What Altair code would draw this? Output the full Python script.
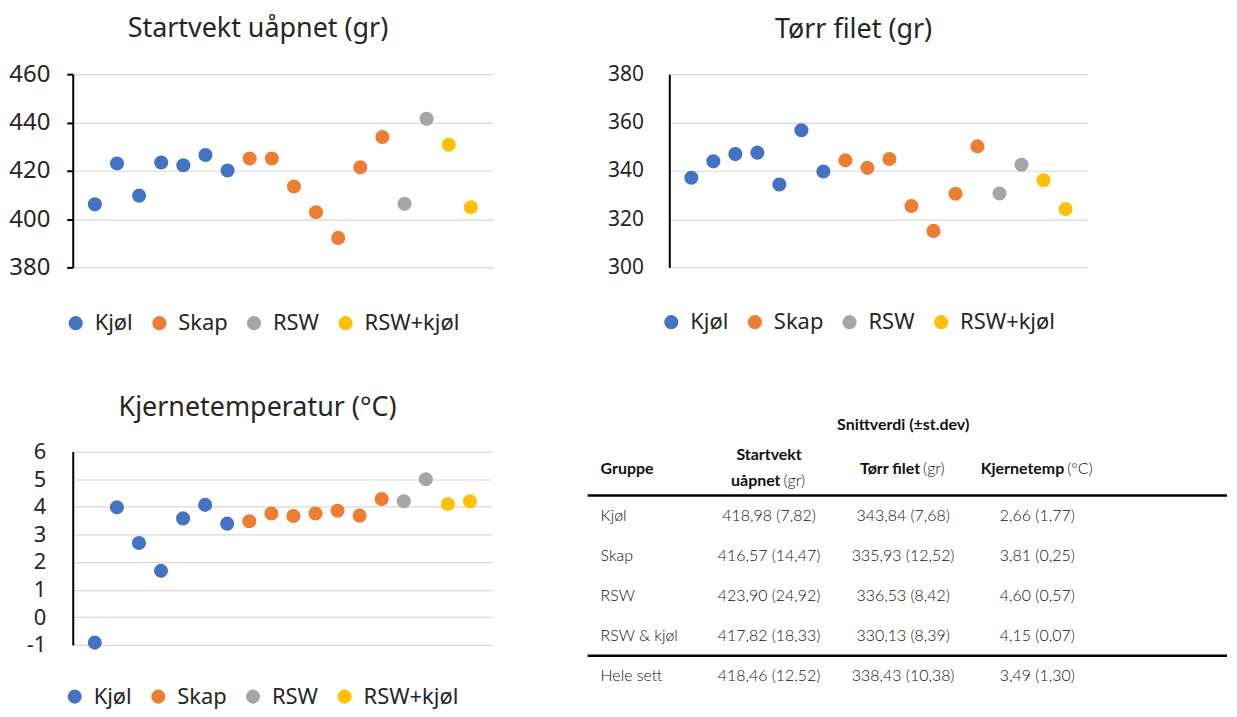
import altair as alt
import pandas as pd

# ---------------- scatter data (sample order 1..18) ----------------
sample_no = list(range(1, 19))
sample_group = ["Kjøl"] * 7 + ["Skap"] * 7 + ["RSW"] * 2 + ["RSW+kjøl"] * 2
startvekt = [406.1, 423.0, 409.7, 423.4, 422.3, 426.5, 420.1,
             425.1, 425.1, 413.5, 402.8, 392.2, 421.4, 434.0,
             406.3, 441.5, 430.8, 404.9]
torr_filet = [337.1, 343.9, 346.9, 347.5, 334.3, 356.8, 339.7,
              344.3, 341.2, 344.9, 325.4, 315.1, 330.5, 350.1,
              330.6, 342.5, 336.1, 324.2]
kjernetemp = [-0.92, 3.98, 2.69, 1.68, 3.58, 4.07, 3.39,
              3.48, 3.76, 3.67, 3.76, 3.86, 3.68, 4.28,
              4.20, 5.00, 4.10, 4.20]

group_order = ["Kjøl", "Skap", "RSW", "RSW+kjøl"]
group_colors = ["#4472C4", "#ED7D31", "#A5A5A5", "#FFC000"]

startvekt_ticks = [380, 400, 420, 440, 460]
torr_ticks = [300, 320, 340, 360, 380]
temp_ticks = [-1, 0, 1, 2, 3, 4, 5, 6]

# ---------------- table data ----------------
table_cols = ["Gruppe", "Startvekt", "Tørr filet", "Kjernetemp"]
table_groups = ["Kjøl", "Skap", "RSW", "RSW & kjøl", "Hele sett"]
table_startvekt = ["418,98 (7,82)", "416,57 (14,47)", "423,90 (24,92)", "417,82 (18,33)", "418,46 (12,52)"]
table_torr = ["343,84 (7,68)", "335,93 (12,52)", "336,53 (8,42)", "330,13 (8,39)", "338,43 (10,38)"]
table_temp = ["2,66 (1,77)", "3,81 (0,25)", "4,60 (0,57)", "4,15 (0,07)", "3,49 (1,30)"]
table_super = "Snittverdi (±st.dev)"

FONT = "Noto Sans"
TFONT = "Lato"
TXT = "#262626"
TTXT = "#111111"
TSIZE = 16


def scatter(values, title, ydom, yvals, width, ticks, label_pad, label_size, leg_x, leg_y, title_dx):
    df = pd.DataFrame({"Prøve": sample_no, "Gruppe": sample_group, "Verdi": values})
    return alt.Chart(
        df,
        title=alt.Title(title, fontSize=27, font=FONT, fontWeight="normal", color=TXT,
                        anchor="middle", offset=-2, baseline="alphabetic", dx=title_dx),
    ).mark_circle(size=200, opacity=1).encode(
        x=alt.X("Prøve:Q", scale=alt.Scale(domain=[0, 19], nice=False, zero=False), axis=None),
        y=alt.Y("Verdi:Q", scale=alt.Scale(domain=ydom, nice=False, zero=False),
                axis=alt.Axis(values=yvals, title=None, grid=True, gridColor="#D9D9D9", gridWidth=1.2,
                              domain=True, domainColor="black", domainWidth=2,
                              ticks=ticks, tickColor="black", tickWidth=2, tickSize=6 if ticks else 0,
                              labelFont=FONT, labelFontSize=label_size, labelColor=TXT,
                              labelPadding=label_pad, labelExpr="'' + datum.value")),
        color=alt.Color("Gruppe:N", scale=alt.Scale(domain=group_order, range=group_colors),
                        legend=alt.Legend(title=None, orient="none", direction="horizontal",
                                          legendX=leg_x, legendY=leg_y, symbolType="circle",
                                          symbolSize=200, symbolStrokeWidth=0, labelFont=FONT,
                                          labelFontSize=22, labelColor=TXT, columnPadding=15,
                                          labelOffset=8, padding=0, labelLimit=300)),
    ).properties(width=width, height=194)


c1 = scatter(startvekt, "Startvekt uåpnet (gr)", [380, 460], startvekt_ticks, 422, True, 17, 24, -8, 239, -25)
c2 = scatter(torr_filet, "Tørr filet (gr)", [300, 380], torr_ticks, 420, False, 26, 21, -9, 238, -25)
c3 = scatter(kjernetemp, "Kjernetemperatur (°C)", [-1, 6], temp_ticks, 421, False, 27, 22, -9, 235, -25)

# ---------------- table ----------------
row_domain = ["Gruppe"] + table_groups
xs = alt.Scale(type="point", domain=table_cols, range=[47.5, 451.5], padding=0)
ys = alt.Scale(type="point", domain=row_domain, range=[25, 225], padding=0)
TW, TH = 642, 253


def cell(text, col, row, dx=0, dy=0, align="center", weight="bold"):
    d = pd.DataFrame({"col": [col], "row": [row], "t": [text]})
    return alt.Chart(d).mark_text(font=TFONT, fontSize=TSIZE, fontWeight=weight, color=TTXT,
                                  align=align, dx=dx, dy=dy).encode(
        x=alt.X("col:N", scale=xs, axis=None),
        y=alt.Y("row:N", scale=ys, axis=None),
        text="t:N")


vals = []
for g, a, b, c in zip(table_groups, table_startvekt, table_torr, table_temp):
    vals += [(table_cols[1], g, a), (table_cols[2], g, b), (table_cols[3], g, c)]
vals_df = pd.DataFrame(vals, columns=["col", "row", "t"])
grp_df = pd.DataFrame({"col": ["Gruppe"] * len(table_groups), "row": table_groups, "t": table_groups})

values_layer = alt.Chart(vals_df).mark_text(font=TFONT, fontSize=TSIZE, fontWeight=300, color=TTXT).encode(
    x=alt.X("col:N", scale=xs, axis=None), y=alt.Y("row:N", scale=ys, axis=None), text="t:N")
groups_layer = alt.Chart(grp_df).mark_text(font=TFONT, fontSize=TSIZE, fontWeight=300, color=TTXT,
                                           align="left", dx=-34.5).encode(
    x=alt.X("col:N", scale=xs, axis=None), y=alt.Y("row:N", scale=ys, axis=None), text="t:N")

rule_top = alt.Chart(pd.DataFrame({"row": ["Gruppe"]})).mark_rule(color="black", strokeWidth=2.5).encode(
    y=alt.Y("row:N", scale=ys, axis=None), yOffset=alt.value(19))
rule_bot = alt.Chart(pd.DataFrame({"row": ["Hele sett"]})).mark_rule(color="black", strokeWidth=2.5).encode(
    y=alt.Y("row:N", scale=ys, axis=None), yOffset=alt.value(-20))

header = [
    cell(table_super, "Tørr filet", "Gruppe", dy=-52),
    cell("Gruppe", "Gruppe", "Gruppe", dx=-34.5, dy=-8, align="left"),
    cell("Startvekt", "Startvekt", "Gruppe", dy=-22),
    cell("uåpnet", "Startvekt", "Gruppe", dx=11.5, dy=5, align="right"),
    cell("(gr)", "Startvekt", "Gruppe", dx=14.5, dy=5, align="left", weight=300),
    cell("Tørr filet", "Tørr filet", "Gruppe", dx=17, dy=-8, align="right"),
    cell("(gr)", "Tørr filet", "Gruppe", dx=20, dy=-8, align="left", weight=300),
    cell("Kjernetemp", "Kjernetemp", "Gruppe", dx=27, dy=-8, align="right"),
    cell("(°C)", "Kjernetemp", "Gruppe", dx=30, dy=-8, align="left", weight=300),
]

table = alt.layer(rule_top, rule_bot, values_layer, groups_layer, *header).properties(width=TW, height=TH)

row1 = alt.hconcat(c1, c2, spacing=114).resolve_scale(color="independent")
row2 = alt.hconcat(c3, table, spacing=94).resolve_scale(color="independent")

chart = (
    alt.concat(row1, row2, columns=1, align="none", spacing=60)
    .resolve_scale(color="independent")
    .properties(padding={"top": 6, "bottom": 0, "left": 0, "right": 0})
    .configure(font=FONT)
    .configure_view(stroke=None)
)

chart.save("out.html", embed_options={"renderer": "svg", "actions": False})
